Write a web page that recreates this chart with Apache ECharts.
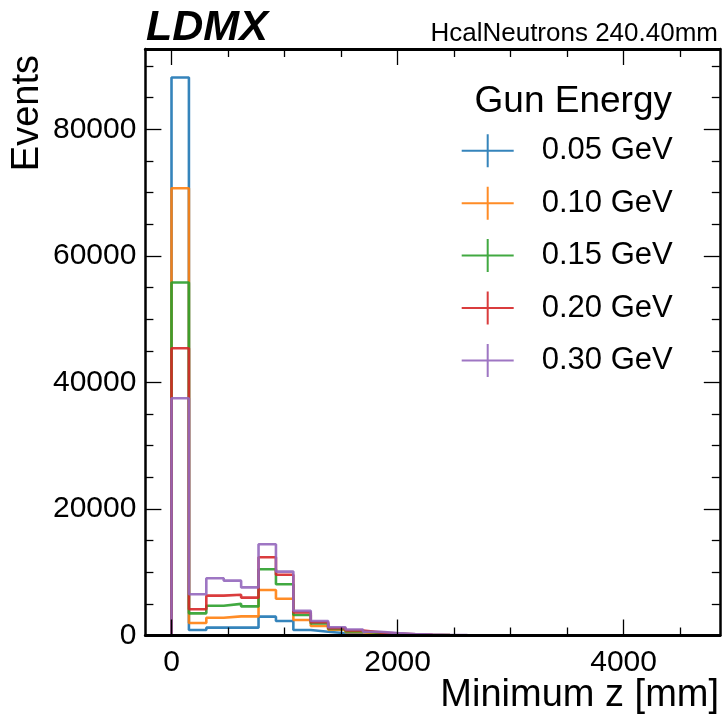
<!DOCTYPE html>
<html>
<head>
<meta charset="utf-8">
<script src="https://cdn.jsdelivr.net/npm/echarts@6/dist/echarts.min.js"></script>
<style>
  html, body { margin: 0; padding: 0; background: #fff; }
  #chart { width: 723px; height: 718px; }
</style>
</head>
<body>
<div id="chart"></div>
<script>
// bin edges of the histogram (mm)
const binEdges = [0, 154, 308, 462, 616, 770, 924, 1078, 1232, 1386, 1540, 1694, 1848, 2002, 2156,
  2310, 2464, 2618, 2772, 2926, 3080, 3234, 3388, 3542, 3696, 3850, 4004, 4158, 4312, 4466, 4620];

const gunEnergies = ['0.05 GeV', '0.10 GeV', '0.15 GeV', '0.20 GeV', '0.30 GeV'];

// counts per bin
const counts005 = [88200, 870, 1240, 1240, 1240, 2980, 2300, 870, 600, 350, 200, 120, 70, 40, 25, 15, 10, 6, 4, 3, 2, 1, 1, 0, 0, 0, 0, 0, 0, 0];
const counts010 = [70700, 1980, 2800, 3030, 3030, 7190, 5800, 2450, 1500, 900, 520, 300, 180, 100, 60, 35, 20, 12, 8, 5, 3, 2, 1, 1, 0, 0, 0, 0, 0, 0];
const counts015 = [55800, 3500, 4700, 5000, 4600, 10470, 8100, 3250, 1900, 1050, 650, 420, 260, 150, 90, 55, 35, 20, 12, 8, 5, 3, 2, 1, 1, 0, 0, 0, 0, 0];
const counts020 = [45400, 4140, 6300, 6450, 5980, 12360, 9600, 3650, 2100, 1150, 800, 500, 320, 180, 110, 70, 45, 28, 18, 11, 7, 4, 3, 2, 1, 1, 0, 0, 0, 0];
const counts030 = [37500, 6510, 9050, 8670, 7600, 14420, 10100, 3900, 2300, 1300, 950, 600, 380, 220, 140, 90, 60, 40, 25, 15, 10, 6, 4, 3, 2, 1, 1, 0, 0, 0];

// tick positions
const xMajorTicks = [0, 2000, 4000];
const xMinorTicks = [500, 1000, 1500, 2500, 3000, 3500, 4500];
const yMajorTicks = [0, 20000, 40000, 60000, 80000];
const yMinorTicks = [5000, 10000, 15000, 25000, 30000, 35000, 45000, 50000, 55000, 65000, 70000, 75000, 85000, 90000];

const colors = ['#1f77b4', '#ff7f0e', '#2ca02c', '#d62728', '#9467bd'];
const allCounts = [counts005, counts010, counts015, counts020, counts030];

const FONT = '"Liberation Sans", Arial, Helvetica, sans-serif';
const X_MIN = -231, X_MAX = 4851;
const Y_MIN = 0, Y_MAX = 92700;

// histogram outline points for a step line
function stepPoints(values) {
  const pts = [[binEdges[0], 0]];
  values.forEach((v, i) => pts.push([binEdges[i], v]));
  pts.push([binEdges[values.length], 0]);
  return pts;
}

function plainNumber(v) {
  return String(Math.round(v));
}

function xAxisDef(position, ticks, len, withLine, withLabel) {
  return {
    type: 'value', position: position, min: X_MIN, max: X_MAX, z: 5,
    axisLine: { show: withLine, onZero: false, lineStyle: { color: '#000', width: 3 } },
    axisTick: { show: true, inside: true, length: len, customValues: ticks, lineStyle: { color: '#000', width: 1.3 } },
    axisLabel: withLabel
      ? { show: true, customValues: ticks, formatter: plainNumber, margin: 12, fontSize: 30, color: '#000', fontFamily: FONT }
      : { show: false },
    splitLine: { show: false }
  };
}

function yAxisDef(position, ticks, len, withLine, withLabel) {
  return {
    type: 'value', position: position, min: Y_MIN, max: Y_MAX, z: 5,
    axisLine: { show: withLine, onZero: false, lineStyle: { color: '#000', width: 2.5 } },
    axisTick: { show: true, inside: true, length: len, customValues: ticks, lineStyle: { color: '#000', width: 1.3 } },
    axisLabel: withLabel
      ? { show: true, customValues: ticks, formatter: plainNumber, margin: 9, fontSize: 30, color: '#000', fontFamily: FONT }
      : { show: false },
    splitLine: { show: false }
  };
}

const crossIcon = 'path://M0,15.5H52V17.5H0Z M25,0H27V33H25Z';

const chart = echarts.init(document.getElementById('chart'), null, { renderer: 'canvas' });

const option = {
  animation: false,
  backgroundColor: '#fff',
  grid: { left: 145.4, right: 3.2, top: 49, bottom: 82.5 },
  xAxis: [
    xAxisDef('bottom', xMajorTicks, 16, true, true),
    xAxisDef('bottom', xMinorTicks, 8, false, false),
    xAxisDef('top', xMajorTicks, 16, true, false),
    xAxisDef('top', xMinorTicks, 8, false, false)
  ],
  yAxis: [
    yAxisDef('left', yMajorTicks, 16, true, true),
    yAxisDef('left', yMinorTicks, 8, false, false),
    yAxisDef('right', yMajorTicks, 16, true, false),
    yAxisDef('right', yMinorTicks, 8, false, false)
  ],
  legend: {
    orient: 'vertical',
    left: 456.7,
    top: 129.3,
    itemWidth: 52,
    itemHeight: 33,
    itemGap: 19.4,
    selectedMode: false,
    data: gunEnergies.map(name => ({ name: name, icon: crossIcon })),
    textStyle: { fontSize: 31, color: '#000', fontFamily: FONT, padding: [0, 0, 0, 23] }
  },
  graphic: [
    {
      type: 'text', left: 146, top: 7,
      style: { text: 'LDMX', font: 'italic bold 43px ' + FONT, fill: '#000' }
    },
    {
      type: 'text', x: 718, y: 34,
      style: { text: 'HcalNeutrons 240.40mm', font: '26px ' + FONT, fill: '#000', align: 'right', verticalAlign: 'middle' }
    },
    {
      type: 'text', x: 573.3, y: 101.7,
      style: { text: 'Gun Energy', font: '37px ' + FONT, fill: '#000', align: 'center', verticalAlign: 'middle' }
    },
    {
      type: 'text', x: 28, y: 55, rotation: Math.PI / 2,
      style: { text: 'Events', font: '38px ' + FONT, fill: '#000', align: 'right', verticalAlign: 'middle' }
    },
    {
      type: 'text', x: 719, y: 695.5,
      style: { text: 'Minimum z [mm]', font: '38px ' + FONT, fill: '#000', align: 'right', verticalAlign: 'middle' }
    }
  ],
  series: allCounts.map((vals, i) => ({
    name: gunEnergies[i],
    type: 'line',
    xAxisIndex: 0,
    yAxisIndex: 0,
    z: 2,
    step: 'end',
    symbol: 'none',
    data: stepPoints(vals),
    color: colors[i],
    lineStyle: { color: colors[i], width: 2.6, opacity: 0.9 },
    itemStyle: { color: colors[i], opacity: 0.9 },
    emphasis: { disabled: true }
  }))
};

chart.setOption(option);
</script>
</body>
</html>
